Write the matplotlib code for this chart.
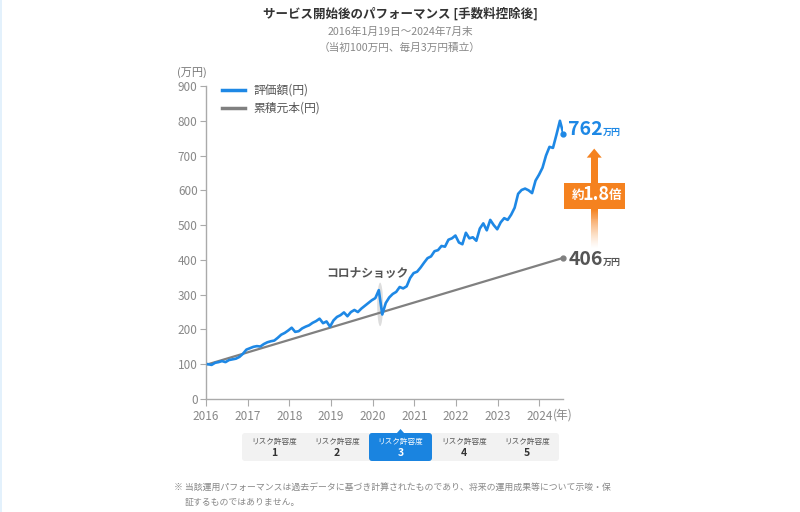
import matplotlib
matplotlib.use('Agg')
import matplotlib.pyplot as plt
from matplotlib.patches import Rectangle, FancyBboxPatch, Ellipse, Polygon
import numpy as np

plt.rcParams['font.family'] = ['Noto Sans CJK JP', 'DejaVu Sans']

# ---------------- data ----------------
title = "サービス開始後のパフォーマンス [手数料控除後]"
subtitle1 = "2016年1月19日～2024年7月末"
subtitle2 = "（当初100万円、毎月3万円積立）"
start_year = 2016.05
end_year = 2024.58
# 評価額 (万円), monthly from Jan 2016 to Jul 2024
valuation = [
    100, 98, 104, 106, 109, 106, 112, 114, 116, 121, 130, 142,          # 2016
    146, 150, 152, 151, 158, 163, 166, 168, 176, 185, 190, 197,         # 2017
    205, 193, 195, 203, 208, 212, 219, 224, 231, 218, 223, 208,         # 2018
    226, 236, 241, 249, 238, 250, 256, 250, 260, 268, 276, 284,         # 2019
    290, 313, 243, 276, 292, 302, 308, 322, 318, 324, 348, 362,         # 2020
    366, 378, 392, 405, 410, 425, 428, 440, 438, 458, 462, 470,         # 2021
    450, 445, 478, 462, 465, 455, 490, 505, 485, 515, 500, 488,         # 2022
    508, 520, 515, 530, 550, 590, 601, 605, 600, 592, 628, 645,         # 2023
    665, 700, 725, 722, 760, 800, 762,                                   # 2024
]
principal_years = [2016.05, 2024.58]
principal = [100, 406]
final_value = 762
final_principal = 406
multiple_prefix, multiple_num, multiple_suffix = "約", "1.8", "倍"
year_ticks = list(range(2016, 2025))
y_ticks = list(range(0, 1000, 100))
legend_labels = ["評価額(円)", "累積元本(円)"]
risk_label = "リスク許容度"
risk_levels = [1, 2, 3, 4, 5]
selected_level = 3
note_lines = ["※ 当該運用パフォーマンスは過去データに基づき計算されたものであり、将来の運用成果等について示唆・保",
              "証するものではありません。"]
corona_label = "コロナショック"

BLUE = "#1e88e5"
GRAY_LINE = "#808080"
ORANGE = "#f5821f"
TXT = "#555555"
LTXT = "#888888"

# ---------------- figure ----------------
W, H = 800, 512
fig = plt.figure(figsize=(8, 5.12), dpi=100)
fig.patch.set_facecolor("white")

ov = fig.add_axes([0, 0, 1, 1])
ov.set_xlim(0, W)
ov.set_ylim(H, 0)
ov.axis("off")

x0, x1, y0, y1 = 206, 563, 399, 86
ax = fig.add_axes([x0 / W, (H - y0) / H, (x1 - x0) / W, (y0 - y1) / H])
ax.set_xlim(2016, 2024.57)
ax.set_ylim(0, 900)
ax.patch.set_alpha(0)

xs = np.linspace(start_year, end_year, len(valuation))

# COVID highlight
ax.add_patch(Ellipse((2020.18, 272), 0.14, 125, color="#dddddd", zorder=1, lw=0))
ax.plot(principal_years, principal, color=GRAY_LINE, lw=1.6, zorder=2)
ax.plot(xs, valuation, color=BLUE, lw=1.9, zorder=3, solid_joinstyle="round")
ax.plot([principal_years[-1]], [principal[-1]], "o", color=GRAY_LINE, ms=3.5, zorder=4, clip_on=False)
ax.plot([xs[-1]], [valuation[-1]], "o", color=BLUE, ms=3.5, zorder=4, clip_on=False)

for s in ["top", "right"]:
    ax.spines[s].set_visible(False)
for s in ["left", "bottom"]:
    ax.spines[s].set_color("#aaaaaa")
    ax.spines[s].set_linewidth(1)
ax.set_yticks(y_ticks)
ax.set_xticks(year_ticks)
ax.set_xticklabels([str(y) for y in year_ticks])
ax.tick_params(axis="y", length=4, color="#aaaaaa", labelcolor=LTXT, labelsize=8.5, pad=2)
ax.tick_params(axis="x", length=5, color="#aaaaaa", labelcolor=LTXT, labelsize=8.5, pad=3)
ax.text(2024.33, -45, "(年)", color=LTXT, fontsize=8.5, ha="left", va="center", clip_on=False)

# corona label
ax.text(2019.88, 362, corona_label, color=TXT, fontsize=8.5, fontweight="bold",
        ha="center", va="center")

# value labels
ax.text(2024.70, final_value + 12, str(final_value), color=BLUE, fontsize=14, fontweight="bold",
        ha="left", va="center", clip_on=False)
ax.text(2025.52, final_value + 4, "万円", color=BLUE, fontsize=6.5, fontweight="bold",
        ha="left", va="center", clip_on=False)
ax.text(2024.70, final_principal - 4, str(final_principal), color=TXT, fontsize=14, fontweight="bold",
        ha="left", va="center", clip_on=False)
ax.text(2025.52, final_principal - 12, "万円", color=TXT, fontsize=6.5, fontweight="bold",
        ha="left", va="center", clip_on=False)

# orange arrow with gradient shaft
ax_x = 2025.32
shaft_w = 0.17
head_w = 0.36
box_bottom, box_top = 547, 621
fade_bottom = 435
n = 40
edges = np.linspace(fade_bottom, box_bottom, n + 1)
for i in range(n):
    a = (i + 1) / n
    ax.add_patch(Rectangle((ax_x - shaft_w / 2, edges[i]), shaft_w, edges[i + 1] - edges[i],
                           facecolor=ORANGE, alpha=a ** 1.3, lw=0, clip_on=False, zorder=5))
ax.add_patch(Rectangle((ax_x - shaft_w / 2, box_top), shaft_w, 696 - box_top,
                       facecolor=ORANGE, lw=0, clip_on=False, zorder=5))
ax.add_patch(Polygon([[ax_x - head_w / 2, 694], [ax_x + head_w / 2, 694], [ax_x, 720]],
                     closed=True, facecolor=ORANGE, lw=0, clip_on=False, zorder=5))
ax.add_patch(Rectangle((2024.59, box_bottom), 1.47, box_top - box_bottom,
                       facecolor=ORANGE, lw=0, clip_on=False, zorder=6))
ax.text(2024.93, (box_bottom + box_top) / 2, multiple_prefix, color="white", fontsize=9,
        fontweight="bold", ha="center", va="center", zorder=7, clip_on=False)
ax.text(2025.37, (box_bottom + box_top) / 2 + 3, multiple_num, color="white", fontsize=13,
        fontweight="bold", ha="center", va="center", zorder=7, clip_on=False)
ax.text(2025.83, (box_bottom + box_top) / 2, multiple_suffix, color="white", fontsize=9,
        fontweight="bold", ha="center", va="center", zorder=7, clip_on=False)

# ---------------- overlay elements ----------------
ov.text(400, 14, title, ha="center", va="center", fontsize=9, fontweight="bold", color="#333333")
ov.text(400, 32, subtitle1, ha="center", va="center", fontsize=7.7, color=LTXT)
ov.text(400, 48, subtitle2, ha="center", va="center", fontsize=7.7, color=LTXT)
ov.text(177, 73, "(万円)", ha="left", va="center", fontsize=8, color="#777777")
ov.add_patch(Rectangle((0, 0), 2, H, facecolor="#e3f1fc", lw=0))

# legend
ov.plot([222, 245], [90, 90], color=BLUE, lw=2.5)
ov.text(253, 90, legend_labels[0], ha="left", va="center", fontsize=8.5, color=TXT)
ov.plot([222, 245], [108, 108], color=GRAY_LINE, lw=2.5)
ov.text(253, 108, legend_labels[1], ha="left", va="center", fontsize=8.5, color=TXT)

# risk buttons
bx0, bx1, by0, by1 = 242, 559, 433, 461
ov.add_patch(FancyBboxPatch((bx0, by0), bx1 - bx0, by1 - by0,
                            boxstyle="round,pad=0,rounding_size=3", facecolor="#f2f2f2", lw=0))
seg_w = (bx1 - bx0) / len(risk_levels)
for i, lvl in enumerate(risk_levels):
    cx = bx0 + seg_w * (i + 0.5)
    sel = lvl == selected_level
    if sel:
        ov.add_patch(FancyBboxPatch((cx - 31.5, by0), 63, by1 - by0,
                                    boxstyle="round,pad=0,rounding_size=3", facecolor="#1a84e0", lw=0))
        ov.add_patch(Polygon([[cx - 4, by0 + 0.5], [cx + 4, by0 + 0.5], [cx, by0 - 4]],
                             closed=True, facecolor="#1a84e0", lw=0))
    ov.text(cx, 442, risk_label, ha="center", va="center", fontsize=5.5,
            color="white" if sel else TXT)
    ov.text(cx, 453, str(lvl), ha="center", va="center", fontsize=7.5, fontweight="bold",
            color="white" if sel else "#333333")

# footnote
ov.text(174, 488, note_lines[0], ha="left", va="center", fontsize=6.4, color=LTXT)
ov.text(185, 503, note_lines[1], ha="left", va="center", fontsize=6.4, color=LTXT)

fig.savefig("out.png", dpi=100)
